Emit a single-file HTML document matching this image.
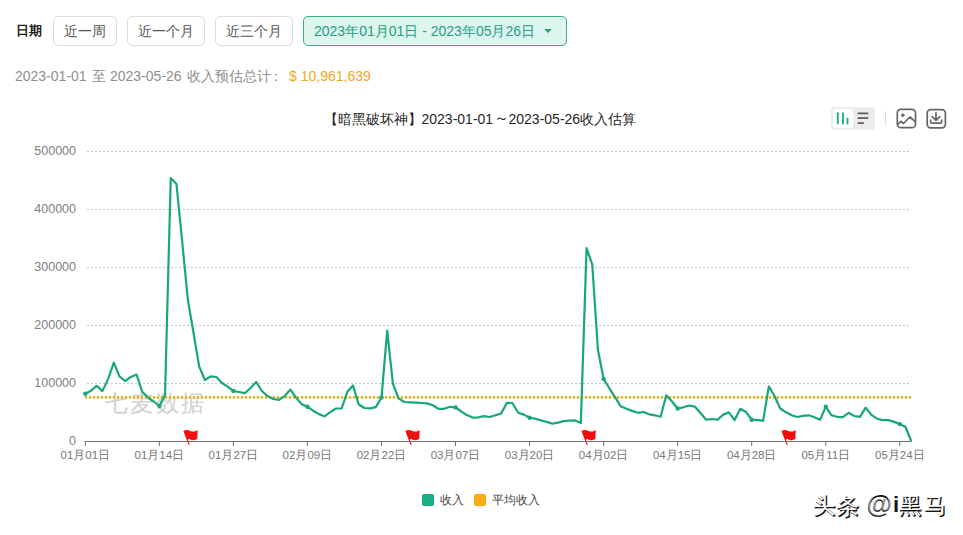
<!DOCTYPE html>
<html><head><meta charset="utf-8">
<style>
html,body{margin:0;padding:0;background:#fff;width:963px;height:535px;overflow:hidden;position:relative;font-family:"Liberation Sans",sans-serif;}
.a{position:absolute;white-space:nowrap;}
.lbl{font-weight:bold;font-size:13px;color:#222;left:16px;top:21.8px;}
.btn{position:absolute;top:16px;height:28px;border:1px solid #dcdcdc;border-radius:5px;box-sizing:content-box;font-size:14px;color:#555;line-height:28px;text-align:center;}
.range{position:absolute;left:303px;top:16px;width:262px;height:28px;border:1px solid #38ae8a;border-radius:5px;background:#ddf5ee;color:#20a27c;font-size:14px;line-height:28px;}
.sum{left:15px;top:68px;font-size:14px;color:#8e8e8e;}
.money{left:289px;top:68px;font-size:14px;color:#f3a626;}
.title{left:328px;top:111px;font-size:14px;color:#262626;}
.yl{position:absolute;right:887px;font-size:12.5px;color:#808080;text-align:right;}
.xl{position:absolute;font-size:11.5px;color:#777;width:80px;text-align:center;}
.wm{position:absolute;top:490px;font-size:22px;white-space:nowrap;}
.wd{color:#151515;font-weight:bold;}
.ww{color:#fff;font-weight:300;}
.leg{position:absolute;top:492px;font-size:12px;color:#444;}
</style></head><body>
<div class="a lbl">日期</div>
<div class="btn" style="left:53px;width:62px;">近一周</div>
<div class="btn" style="left:127px;width:76px;">近一个月</div>
<div class="btn" style="left:215px;width:76px;">近三个月</div>
<div class="range"><span style="position:absolute;left:10px;top:0;">2023年01月01日 - 2023年05月26日</span>
<svg style="position:absolute;left:240px;top:12px" width="10" height="6"><path d="M0.2 0.1 L7.9 0.1 L4.05 4.1 Z" fill="#1f9f7a"/></svg></div>
<div class="a sum">2023-01-01</div><div class="a sum" style="left:91.5px">至</div><div class="a sum" style="left:110px">2023-05-26</div><div class="a sum" style="left:187px">收入预估总计</div><div class="a sum" style="left:269px">：</div>
<div class="a money">$ 10,961,639</div>
<div class="a title" style="left:323.5px">【暗黑破坏神】2023-01-01</div><div class="a title" style="left:493.5px;font-size:15px;top:109px">～</div><div class="a title" style="left:508.5px">2023-05-26收入估算</div>

<!-- toolbar -->
<div class="a" style="left:831px;top:107px;width:44px;height:23px;background:#ececec;border-radius:4px;"></div>
<div class="a" style="left:833px;top:109px;width:20px;height:19px;background:#fff;border-radius:3px;"></div>
<svg class="a" style="left:0;top:0" width="963" height="535">
  <g stroke="#22ad85" stroke-width="1.9" stroke-linecap="round">
    <line x1="837.8" y1="113.3" x2="837.8" y2="123.5"/>
    <line x1="843" y1="113.3" x2="843" y2="123.5"/>
    <line x1="847.5" y1="118.6" x2="847.5" y2="123.5"/>
  </g>
  <g stroke="#5a5a5a" stroke-width="1.8" stroke-linecap="round">
    <line x1="858.3" y1="113.4" x2="867.6" y2="113.4"/>
    <line x1="858.3" y1="118.1" x2="867.6" y2="118.1"/>
    <line x1="858.3" y1="123.1" x2="863.2" y2="123.1"/>
  </g>
  <line x1="885.5" y1="111" x2="885.5" y2="125" stroke="#ddd" stroke-width="1"/>
  <g fill="none" stroke="#666" stroke-width="1.7" stroke-linejoin="round" stroke-linecap="round">
    <rect x="897.3" y="109.3" width="18.2" height="18.4" rx="3.5"/>
    <path d="M897.9 124.1 L901.2 121.3 L903.4 123.5 L909.9 117 L915.2 121.6"/>
    <circle cx="902.8" cy="115.2" r="1.3" fill="#666" stroke-width="1"/>
    <rect x="927.2" y="109.6" width="18.2" height="18.2" rx="3.5"/>
    <path d="M936 112.8 V120 M932.1 116.6 L936 120.4 L939.8 116.6 M930.6 120 V121.8 Q930.6 123.2 932 123.2 H940.3 Q941.7 123.2 941.7 121.8 V120"/>
  </g>
</svg>

<!-- chart -->
<svg class="a" style="left:0;top:0" width="963" height="535">
  <g stroke="#c6c6c6" stroke-width="1" stroke-dasharray="2 2">
    <line x1="87" y1="151.5" x2="909" y2="151.5"/>
    <line x1="87" y1="209.5" x2="909" y2="209.5"/>
    <line x1="87" y1="267.5" x2="909" y2="267.5"/>
    <line x1="87" y1="325.5" x2="909" y2="325.5"/>
    <line x1="87" y1="383.5" x2="909" y2="383.5"/>
  </g>
  <text x="104.5" y="410.8" font-family="Liberation Sans, sans-serif" font-size="22.5" fill="#d2d2d2" stroke="#d2d2d2" stroke-width="0.15" letter-spacing="2.6">七麦数据</text>
  <path transform="translate(183.4,430.6)" d="M0 0.3 C2.5 -1 4.5 -0.8 7 0.3 C9 1.2 11.8 1 14.2 -0.7 L13.9 8.5 C11.5 9.9 8.5 9.8 6.5 8.6 C5.5 8.2 4.9 8.5 4.4 8.9 L6.3 14 L5.2 14.3 Z" fill="#f40d0d"/><path transform="translate(405.4,430.6)" d="M0 0.3 C2.5 -1 4.5 -0.8 7 0.3 C9 1.2 11.8 1 14.2 -0.7 L13.9 8.5 C11.5 9.9 8.5 9.8 6.5 8.6 C5.5 8.2 4.9 8.5 4.4 8.9 L6.3 14 L5.2 14.3 Z" fill="#f40d0d"/><path transform="translate(581.5,430.6)" d="M0 0.3 C2.5 -1 4.5 -0.8 7 0.3 C9 1.2 11.8 1 14.2 -0.7 L13.9 8.5 C11.5 9.9 8.5 9.8 6.5 8.6 C5.5 8.2 4.9 8.5 4.4 8.9 L6.3 14 L5.2 14.3 Z" fill="#f40d0d"/><path transform="translate(781.5,430.6)" d="M0 0.3 C2.5 -1 4.5 -0.8 7 0.3 C9 1.2 11.8 1 14.2 -0.7 L13.9 8.5 C11.5 9.9 8.5 9.8 6.5 8.6 C5.5 8.2 4.9 8.5 4.4 8.9 L6.3 14 L5.2 14.3 Z" fill="#f40d0d"/>
  <line x1="85" y1="441.5" x2="911.5" y2="441.5" stroke="#6e6e6e" stroke-width="1"/>
  <g stroke="#6e6e6e" stroke-width="1">
    <line x1="85.3" y1="441" x2="85.3" y2="446"/><line x1="159.3" y1="441" x2="159.3" y2="446"/><line x1="233.4" y1="441" x2="233.4" y2="446"/><line x1="307.4" y1="441" x2="307.4" y2="446"/><line x1="381.5" y1="441" x2="381.5" y2="446"/><line x1="455.5" y1="441" x2="455.5" y2="446"/><line x1="529.6" y1="441" x2="529.6" y2="446"/><line x1="603.6" y1="441" x2="603.6" y2="446"/><line x1="677.7" y1="441" x2="677.7" y2="446"/><line x1="751.7" y1="441" x2="751.7" y2="446"/><line x1="825.8" y1="441" x2="825.8" y2="446"/><line x1="899.8" y1="441" x2="899.8" y2="446"/>
  </g>
  <line x1="85" y1="397.3" x2="911" y2="397.3" stroke="#fff29a" stroke-width="2.2"/>
  <line x1="85" y1="397.3" x2="911" y2="397.3" stroke="#cca640" stroke-width="2.2" stroke-dasharray="2 2"/>
  <polyline fill="none" stroke="#17a67e" stroke-width="2.2" stroke-linejoin="round" points="85.30,393.70 91.00,390.70 96.69,385.80 102.39,391.10 108.08,379.10 113.78,362.60 119.48,376.30 125.17,381.00 130.87,376.90 136.56,374.60 142.26,391.80 147.96,397.60 153.65,401.50 159.35,406.00 165.04,395.00 170.74,178.00 176.44,183.90 182.13,241.00 187.83,299.50 193.52,333.00 199.22,366.60 204.92,380.00 210.61,376.40 216.31,377.00 222.00,383.00 227.70,386.70 233.40,391.00 239.09,392.00 244.79,393.20 250.48,388.10 256.18,382.00 261.88,391.00 267.57,396.10 273.27,399.00 278.96,399.80 284.66,396.10 290.36,389.60 296.05,397.60 301.75,404.20 307.44,406.80 313.14,410.70 318.84,414.10 324.53,416.30 330.23,412.20 335.92,408.50 341.62,408.50 347.32,391.80 353.01,385.50 358.71,404.50 364.40,408.00 370.10,408.30 375.80,407.10 381.49,397.60 387.19,330.50 392.88,383.70 398.58,398.30 404.28,402.00 409.97,402.40 415.67,402.70 421.36,403.00 427.06,403.40 432.76,405.30 438.45,408.80 444.15,408.80 449.84,406.80 455.54,407.40 461.24,411.50 466.93,415.10 472.63,417.60 478.32,417.30 484.02,416.10 489.72,417.00 495.41,415.30 501.11,413.60 506.80,402.90 512.50,403.20 518.20,412.80 523.89,414.60 529.59,417.80 535.28,418.70 540.98,420.40 546.68,421.90 552.37,423.60 558.07,422.60 563.76,421.10 569.46,420.70 575.16,420.40 580.85,423.00 586.55,248.20 592.24,264.30 597.94,350.00 603.64,378.90 609.33,388.30 615.03,397.10 620.72,406.30 626.42,408.70 632.12,410.90 637.81,412.80 643.51,412.00 649.20,414.30 654.90,415.30 660.60,416.80 666.29,395.30 671.99,401.50 677.68,408.50 683.38,407.30 689.08,405.50 694.77,406.60 700.47,413.10 706.16,419.70 711.86,419.00 717.56,419.70 723.25,414.60 728.95,412.40 734.64,420.10 740.34,408.80 746.04,412.00 751.73,419.80 757.43,419.90 763.12,420.90 768.82,386.40 774.52,396.00 780.21,408.50 785.91,412.30 791.60,415.30 797.30,417.00 803.00,415.80 808.69,415.30 814.39,417.20 820.08,419.70 825.78,406.60 831.48,415.30 837.17,416.80 842.87,417.20 848.56,412.80 854.26,416.00 859.96,416.80 865.65,407.60 871.35,414.90 877.04,418.70 882.74,420.10 888.44,420.10 894.13,421.90 899.83,424.10 905.52,427.00 911.22,441.10"/>
  <g fill="#17a67e"><circle cx="85.30" cy="393.70" r="2.2"/><circle cx="159.35" cy="406.00" r="2.2"/><circle cx="233.40" cy="391.00" r="2.2"/><circle cx="307.44" cy="406.80" r="2.2"/><circle cx="381.49" cy="397.60" r="2.2"/><circle cx="455.54" cy="407.40" r="2.2"/><circle cx="529.59" cy="417.80" r="2.2"/><circle cx="603.64" cy="378.90" r="2.2"/><circle cx="677.68" cy="408.50" r="2.2"/><circle cx="751.73" cy="419.80" r="2.2"/><circle cx="825.78" cy="406.60" r="2.2"/><circle cx="899.83" cy="424.10" r="2.2"/></g>
</svg>

<div class="yl" style="top:144px">500000</div>
<div class="yl" style="top:202px">400000</div>
<div class="yl" style="top:260px">300000</div>
<div class="yl" style="top:318px">200000</div>
<div class="yl" style="top:376px">100000</div>
<div class="yl" style="top:434px">0</div>
<div class="xl" style="left:45.3px;top:448px">01月01日</div>
<div class="xl" style="left:119.3px;top:448px">01月14日</div>
<div class="xl" style="left:193.4px;top:448px">01月27日</div>
<div class="xl" style="left:267.4px;top:448px">02月09日</div>
<div class="xl" style="left:341.5px;top:448px">02月22日</div>
<div class="xl" style="left:415.5px;top:448px">03月07日</div>
<div class="xl" style="left:489.6px;top:448px">03月20日</div>
<div class="xl" style="left:563.6px;top:448px">04月02日</div>
<div class="xl" style="left:637.7px;top:448px">04月15日</div>
<div class="xl" style="left:711.7px;top:448px">04月28日</div>
<div class="xl" style="left:785.8px;top:448px">05月11日</div>
<div class="xl" style="left:859.8px;top:448px">05月24日</div>


<div class="a" style="left:422px;top:494px;width:12px;height:12px;background:#1aae86;border-radius:2px;"></div>
<div class="leg" style="left:440px;">收入</div>
<div class="a" style="left:474px;top:494px;width:12px;height:12px;background:#fbab12;border-radius:2px;"></div>
<div class="leg" style="left:492px;">平均收入</div>

<div class="wm wd" style="left:813.5px;top:492px;font-size:22px">头</div><div class="wm wd" style="left:836.5px;top:491.7px;font-size:22.5px">条</div><div class="wm wd" style="left:866.5px;top:489px;font-size:26px">@</div><div class="wm wd" style="left:893px;top:492px;font-size:22px">i</div><div class="wm wd" style="left:899.5px;top:492px;font-size:22px">黑</div><div class="wm wd" style="left:925px;top:492px;font-size:22px">马</div><div class="wm ww" style="left:812.9px;top:491.1px;font-size:22px">头</div><div class="wm ww" style="left:835.9px;top:490.8px;font-size:22.5px">条</div><div class="wm ww" style="left:866.3px;top:488.4px;font-size:26px;color:rgba(255,255,255,0.55);font-weight:normal;">@</div><div class="wm ww" style="left:898.9px;top:491.1px;font-size:22px">黑</div><div class="wm ww" style="left:924.4px;top:491.1px;font-size:22px">马</div>
</body></html>
